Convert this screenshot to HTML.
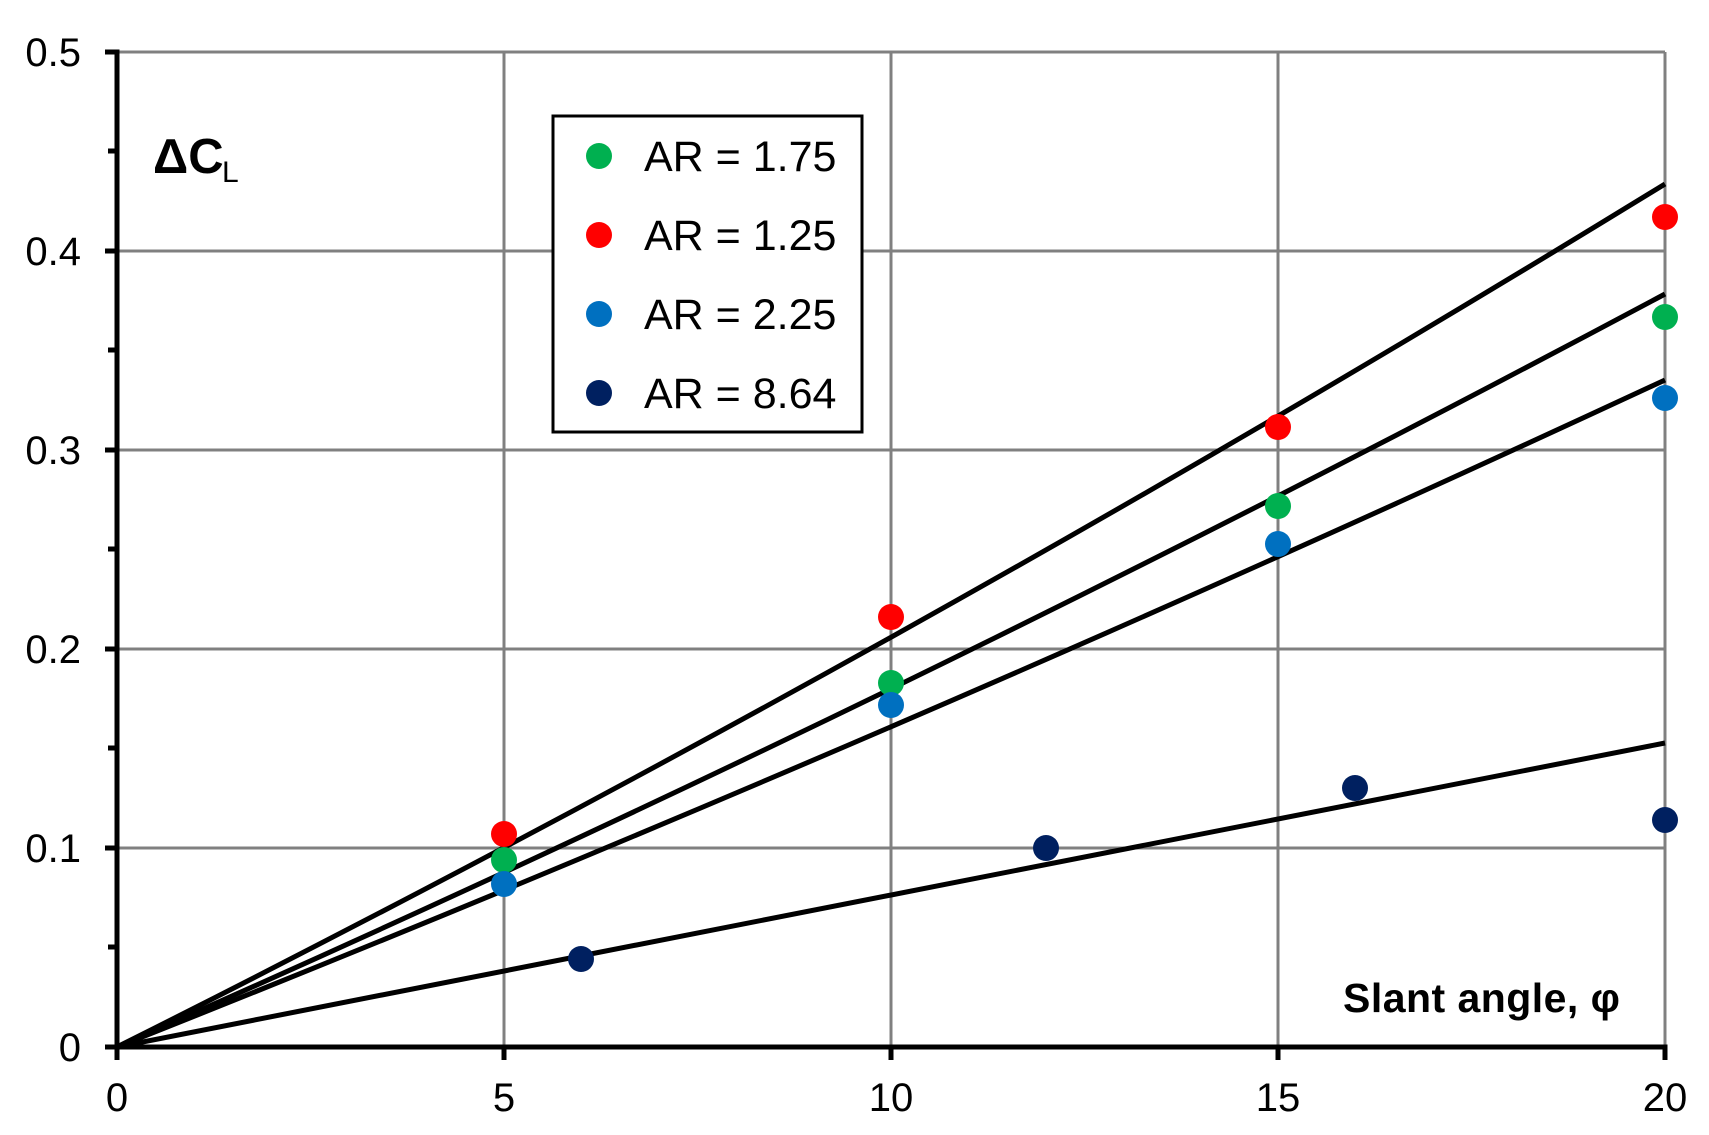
<!DOCTYPE html>
<html><head><meta charset="utf-8"><style>html,body{margin:0;padding:0;background:#fff}svg{display:block}</style></head>
<body>
<svg width="1709" height="1135" viewBox="0 0 1709 1135" xmlns="http://www.w3.org/2000/svg" font-family="Liberation Sans, Arial, sans-serif">
<rect width="1709" height="1135" fill="#fff"/>
<g stroke="#808080" stroke-width="3">
<line x1="117" y1="52" x2="1665" y2="52"/>
<line x1="117" y1="251" x2="1665" y2="251"/>
<line x1="117" y1="450" x2="1665" y2="450"/>
<line x1="117" y1="649" x2="1665" y2="649"/>
<line x1="117" y1="848" x2="1665" y2="848"/>
<line x1="504" y1="52" x2="504" y2="1047"/>
<line x1="891" y1="52" x2="891" y2="1047"/>
<line x1="1278" y1="52" x2="1278" y2="1047"/>
<line x1="1665" y1="52" x2="1665" y2="1047"/>
</g>
<g stroke="#000" stroke-width="5" stroke-linecap="square">
<line x1="117" y1="52" x2="117" y2="1047"/>
<line x1="117" y1="1047" x2="1665" y2="1047"/>
</g>
<g stroke="#000" stroke-width="5">
<line x1="105" y1="52" x2="117" y2="52"/><line x1="105" y1="251" x2="117" y2="251"/><line x1="105" y1="450" x2="117" y2="450"/><line x1="105" y1="649" x2="117" y2="649"/><line x1="105" y1="848" x2="117" y2="848"/><line x1="105" y1="1047" x2="117" y2="1047"/>
<line x1="108" y1="151" x2="117" y2="151"/><line x1="108" y1="350" x2="117" y2="350"/><line x1="108" y1="549" x2="117" y2="549"/><line x1="108" y1="748" x2="117" y2="748"/><line x1="108" y1="947" x2="117" y2="947"/>
<line x1="117" y1="1047" x2="117" y2="1060"/><line x1="504" y1="1047" x2="504" y2="1060"/><line x1="891" y1="1047" x2="891" y2="1060"/><line x1="1278" y1="1047" x2="1278" y2="1060"/><line x1="1665" y1="1047" x2="1665" y2="1060"/>
</g>
<g stroke="#000" stroke-width="5" fill="none">
<path d="M117 1047 Q891 659 1665 184"/>
<path d="M117 1047 Q891 707 1665 294"/>
<path d="M117 1047 Q891 740 1665 380"/>
<line x1="117" y1="1047" x2="1665" y2="743"/>
</g>
<g fill="#ff0000"><circle cx="504" cy="834" r="13"/><circle cx="891" cy="617" r="13"/><circle cx="1278" cy="427" r="13"/><circle cx="1665" cy="217" r="13"/></g>
<g fill="#00b050"><circle cx="504" cy="860" r="13"/><circle cx="891" cy="683" r="13"/><circle cx="1278" cy="506" r="13"/><circle cx="1665" cy="317" r="13"/></g>
<g fill="#0070c0"><circle cx="504" cy="884" r="13"/><circle cx="891" cy="705" r="13"/><circle cx="1278" cy="544" r="13"/><circle cx="1665" cy="398" r="13"/></g>
<g fill="#002060"><circle cx="581" cy="959" r="13"/><circle cx="1046" cy="848" r="13"/><circle cx="1355" cy="788" r="13"/><circle cx="1665" cy="820" r="13"/></g>
<g font-size="40" fill="#000" text-anchor="end">
<text x="81" y="66">0.5</text><text x="81" y="265">0.4</text><text x="81" y="464">0.3</text><text x="81" y="663">0.2</text><text x="81" y="862">0.1</text><text x="81" y="1061">0</text>
</g>
<g font-size="40" fill="#000" text-anchor="middle">
<text x="117" y="1111">0</text><text x="504" y="1111">5</text><text x="891" y="1111">10</text><text x="1278" y="1111">15</text><text x="1665" y="1111">20</text>
</g>
<text x="153" y="173" font-size="49" font-weight="bold">ΔC</text>
<text x="222" y="182" font-size="30">L</text>
<text x="1343" y="1012" font-size="41" font-weight="bold" textLength="277">Slant angle, φ</text>
<rect x="553" y="116" width="309" height="316" fill="#fff" stroke="#000" stroke-width="3"/>
<circle cx="599" cy="156" r="13" fill="#00b050"/>
<circle cx="599" cy="235" r="13" fill="#ff0000"/>
<circle cx="599" cy="314" r="13" fill="#0070c0"/>
<circle cx="599" cy="393" r="13" fill="#002060"/>
<g font-size="43" fill="#000">
<text x="644" y="171">AR = 1.75</text>
<text x="644" y="250">AR = 1.25</text>
<text x="644" y="329">AR = 2.25</text>
<text x="644" y="408">AR = 8.64</text>
</g>
</svg>
</body></html>
